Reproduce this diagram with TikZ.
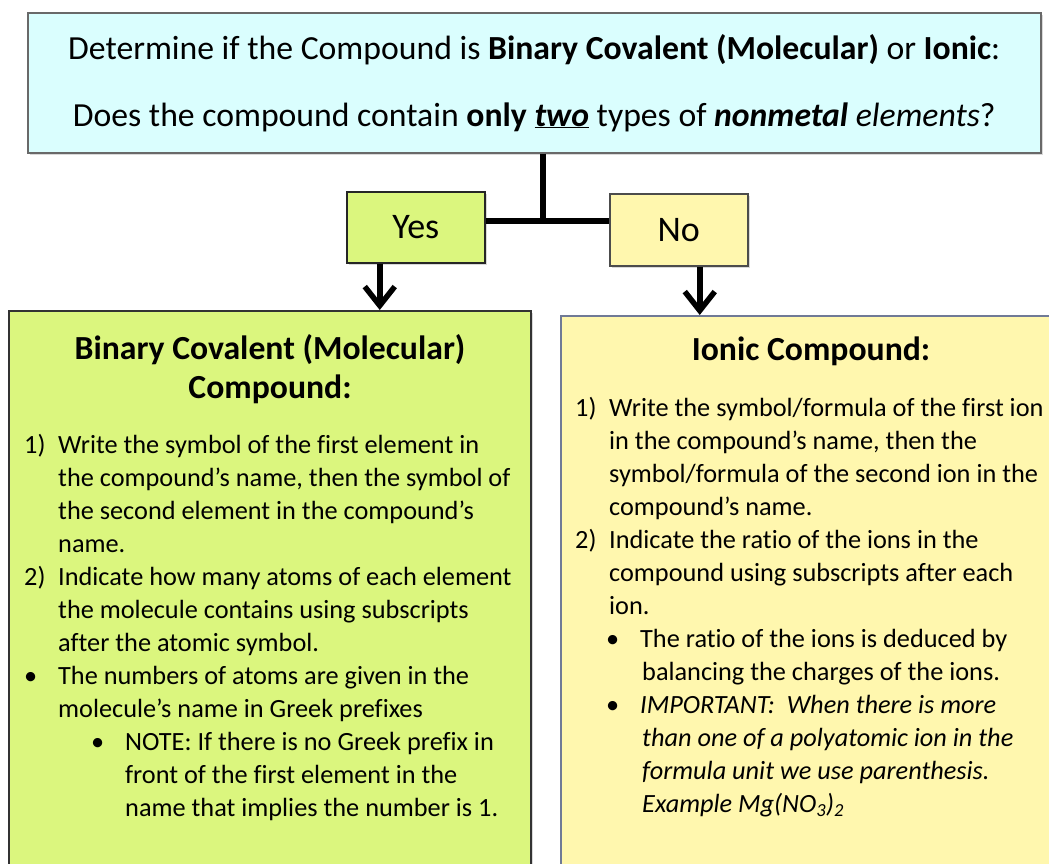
\documentclass[tikz,border=0pt]{standalone}
\usepackage{fontspec}
\setmainfont{Carlito}[Ligatures={TeX,NoCommon}]
\usepackage{tikz}
\usetikzlibrary{arrows.meta, shadows}

\definecolor{qcyan}{RGB}{218,254,254}
\definecolor{yesgreen}{RGB}{219,246,126}
\definecolor{noyellow}{RGB}{255,247,174}
\definecolor{framegray}{RGB}{105,105,105}
\definecolor{frameslate}{RGB}{112,122,150}

\newcommand{\steplbl}[1]{\makebox[34pt][l]{#1}}
\newcommand{\stepin}{\hspace*{34pt}}

\tikzset{
  panel/.style={draw, line width=1.5pt, inner sep=0pt, anchor=north west,
    drop shadow={shadow xshift=2pt, shadow yshift=-2pt, opacity=.3}},
  answer/.style={panel, minimum width=138pt, minimum height=71pt,
    font=\fontsize{36}{42}\selectfont},
  heading/.style={font=\bfseries\fontsize{33.7}{39}\selectfont, align=center, inner sep=0pt},
  steps/.style={font=\fontsize{26.3}{33}\selectfont, align=left, inner sep=0pt, anchor=north west},
  link/.style={line width=5.5pt},
  down/.style={link, -{Straight Barb[length=19pt, width=30pt]}}
}

\begin{document}
\begin{tikzpicture}[x=1pt, y=-1pt]
    \clip (0,0) rectangle (1049,863);

    % question
    \node[panel, fill=qcyan, draw=framegray, minimum width=1013pt, minimum height=140pt,
        align=center, font=\fontsize{33.7}{67}\selectfont] (question) at (27,12)
        {Determine if the Compound is \textbf{Binary Covalent (Molecular)} or \textbf{Ionic}:\\
         Does the compound contain \textbf{only \underline{\textit{two}}} types of
         \textbf{\textit{nonmetal}} \textit{elements}?};

    % answers
    \node[answer, fill=yesgreen, draw=black!85] (yes) at (346,191) {Yes};
    \node[answer, fill=noyellow, draw=black!70, minimum height=72pt] (no) at (609,193) {No};

    % fork
    \coordinate (fork) at (543,221);
    \draw[link] (question.south -| fork) -- (fork);
    \draw[link] (yes.east |- fork) -- (no.west |- fork);

    % Yes side
    \node[panel, fill=yesgreen, draw=black!80, minimum width=522pt, minimum height=570pt] (covbox) at (8,310) {};
    \draw[down] ([xshift=-36pt]yes.south) -- ([xshift=-36pt]yes.south |- covbox.north);
    \node[heading] (covtitle) at (270,369) {Binary Covalent (Molecular)\\Compound:};
    \node[steps] (covsteps) at (24,434) {%
        \steplbl{1)}Write the symbol of the first element in\\
        \stepin the compound’s name, then the symbol of\\
        \stepin the second element in the compound’s\\
        \stepin name.\\
        \steplbl{2)}Indicate how many atoms of each element\\
        \stepin the molecule contains using subscripts\\
        \stepin after the atomic symbol.\\
        \steplbl{\textbullet}The numbers of atoms are given in the\\
        \stepin molecule’s name in Greek prefixes\\
        \hspace*{67pt}\steplbl{\textbullet}NOTE: If there is no Greek prefix in\\
        \hspace*{101pt}front of the first element in the\\
        \hspace*{101pt}name that implies the number is 1.};

    % No side
    \node[panel, fill=noyellow, draw=frameslate, minimum width=500pt, minimum height=570pt] (ionbox) at (560,315) {};
    \draw[down] ([xshift=21pt]no.south) -- ([xshift=21pt]no.south |- ionbox.north);
    \node[heading, anchor=base] (iontitle) at (811,360) {Ionic Compound:};
    \node[steps] (ionsteps) at (575,397) {%
        \steplbl{1)}Write the symbol/formula of the first ion\\
        \stepin in the compound’s name, then the\\
        \stepin symbol/formula of the second ion in the\\
        \stepin compound’s name.\\
        \steplbl{2)}Indicate the ratio of the ions in the\\
        \stepin compound using subscripts after each\\
        \stepin ion.\\
        \hspace*{31pt}\steplbl{\textbullet}The ratio of the ions is deduced by\\
        \hspace*{67pt}balancing the charges of the ions.\\
        \hspace*{31pt}\steplbl{\textbullet}\textit{IMPORTANT:\ \ When there is more}\\
        \hspace*{67pt}\textit{than one of a polyatomic ion in the}\\
        \hspace*{67pt}\textit{formula unit we use parenthesis.}\\
        \hspace*{67pt}\textit{Example Mg(NO\textsubscript{3})\textsubscript{2}}};
\end{tikzpicture}
\end{document}
